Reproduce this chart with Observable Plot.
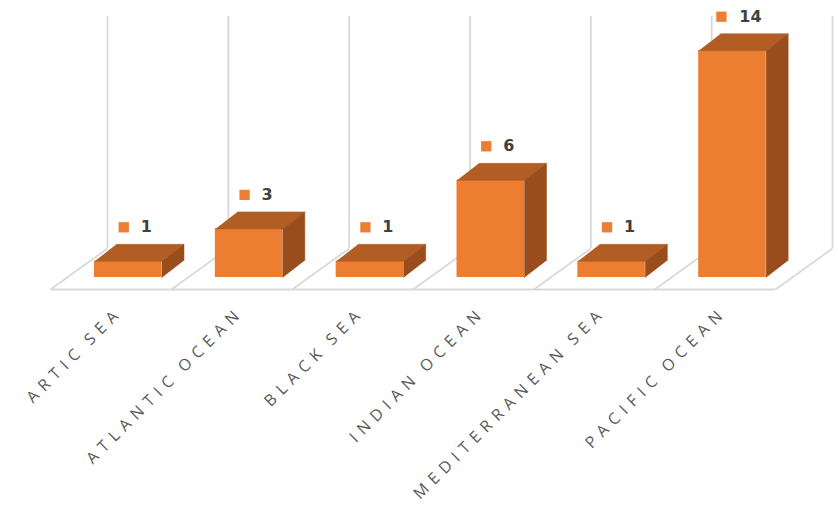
<!DOCTYPE html>
<html>
<head>
<meta charset="utf-8">
<script src="https://cdn.jsdelivr.net/npm/d3@7"></script>
<script src="https://cdn.jsdelivr.net/npm/@observablehq/plot@0.6"></script>
<style>
  html, body { margin: 0; padding: 0; background: #fff; }
  #chart { width: 838px; height: 507px; }
</style>
</head>
<body>
<div id="chart"></div>
<script>
// ---- data ----
const categories = ["ARTIC SEA", "ATLANTIC OCEAN", "BLACK SEA", "INDIAN OCEAN", "MEDITERRANEAN SEA", "PACIFIC OCEAN"];
const counts = [1, 3, 1, 6, 1, 14];

// ---- layout constants (in scale units) ----
const PXX = 725 / 6;        // px per category unit
const PXY = 16.2;           // px per value unit
const FX = 57 / PXX, FY = 41 / PXY;      // floor depth offset
const BX = 22 / PXX, BY = 17 / PXY;      // bar depth offset
const BAR_L = 44 / PXX, BAR_W = 67.5 / PXX; // bar front face left offset and width
const BASE = 12 / PXY;                   // bar front base height above floor front
const WALL_TOP = (289 - 16) / PXY;

const bars = categories.map((c, i) => {
  const x0 = i + BAR_L, x1 = x0 + BAR_W;
  const yb = BASE, yt = BASE + counts[i];
  return {c, i, v: counts[i], x0, x1, yb, yt};
});

const topPts = bars.flatMap(b => [
  {i: b.i, x: b.x0, y: b.yt},
  {i: b.i, x: b.x1, y: b.yt},
  {i: b.i, x: b.x1 + BX, y: b.yt + BY},
  {i: b.i, x: b.x0 + BX, y: b.yt + BY}
]);
const sidePts = bars.flatMap(b => [
  {i: b.i, x: b.x1, y: b.yb},
  {i: b.i, x: b.x1, y: b.yt},
  {i: b.i, x: b.x1 + BX, y: b.yt + BY},
  {i: b.i, x: b.x1 + BX, y: b.yb + BY}
]);

const bounds = d3.range(categories.length + 1);
const labels = bars.map(b => {
  const tc = (b.x0 + b.x1) / 2 + BX / 2 + 7 / PXX;
  const n = String(b.v).length;
  return {text: String(b.v), x: tc, sx: tc - (16 + n * 6.5) / PXX, y: b.yt + BY + 17 / PXY};
});

const grid = "#d9d9d9";
const plot = Plot.plot({
  width: 838,
  height: 507,
  marginTop: 0, marginBottom: 0, marginLeft: 0, marginRight: 0,
  x: {type: "linear", domain: [0, 6], range: [50, 775], axis: null},
  y: {type: "linear", domain: [0, 14], range: [289, 289 - 14 * PXY], axis: null},
  marks: [
    // floor front edge
    Plot.ruleY([0], {x1: 0, x2: 6, stroke: grid, strokeWidth: 1.8}),
    // floor diagonals
    Plot.link(bounds, {x1: d => d, y1: 0, x2: d => d + FX, y2: FY, stroke: grid, strokeWidth: 1.8}),
    // back wall verticals
    Plot.ruleX(bounds, {x: d => d + FX, y1: FY, y2: WALL_TOP, stroke: grid, strokeWidth: 1.8}),
    // bar front faces
    Plot.rect(bars, {x1: "x0", x2: "x1", y1: "yb", y2: "yt", fill: "#ED7D31"}),
    // bar top faces
    Plot.line(topPts, {x: "x", y: "y", z: "i", fill: "#B15D23", stroke: "#B15D23", strokeWidth: 0.5}),
    // bar side faces
    Plot.line(sidePts, {x: "x", y: "y", z: "i", fill: "#9A4D1C", stroke: "#9A4D1C", strokeWidth: 0.5}),
    // value labels
    Plot.dot(labels, {x: "sx", y: "y", symbol: "square", r: 5.8, fill: "#ED7D31", stroke: null}),
    Plot.text(labels, {x: "x", y: "y", text: "text", fill: "#404040", fontSize: 16, fontWeight: "bold", fontFamily: "DejaVu Sans"}),
    // category labels
    Plot.text(categories, {x: (d, i) => i + 0.5, y: 0, text: d => d, rotate: -45, textAnchor: "end",
      dx: 9, dy: 20, fill: "#595959", fontSize: 16, fontFamily: "Open Sans"})
  ]
});
document.getElementById("chart").appendChild(plot);
plot.querySelectorAll("text").forEach(t => {
  if (categories.includes(t.textContent)) {
    t.style.letterSpacing = "6.2px";
    t.style.wordSpacing = "-3px";
  }
});
</script>
</body>
</html>
